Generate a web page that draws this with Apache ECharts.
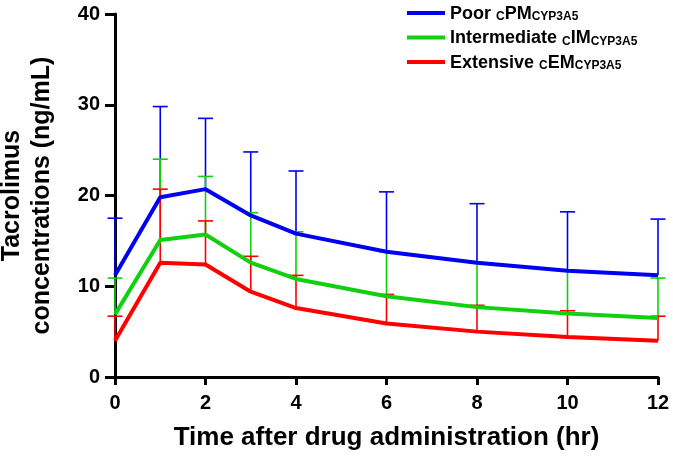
<!DOCTYPE html>
<html>
<head>
<meta charset="utf-8">
<script src="https://cdn.jsdelivr.net/npm/echarts@6/dist/echarts.min.js"></script>
<style>
  html, body { margin: 0; padding: 0; background: #fff; }
  #chart { width: 673px; height: 456px; }
</style>
</head>
<body>
<div id="chart"></div>
<script>
// hours after dose
const hours = [0, 1, 2, 3, 4, 6, 8, 10, 12];
// mean and mean+SD (ng/mL)
const poorMean = [11.2, 19.8, 20.7, 17.8, 15.8, 13.8, 12.6, 11.7, 11.2];
const poorUpper = [17.5, 29.8, 28.5, 24.8, 22.7, 20.4, 19.1, 18.2, 17.4];
const interMean = [6.9, 15.1, 15.7, 12.6, 10.8, 8.9, 7.7, 7.0, 6.5];
const interUpper = [10.9, 24.0, 22.1, 18.1, 16.0, 13.8, 12.6, 11.7, 10.9];
const extMean = [4.0, 12.6, 12.4, 9.4, 7.6, 5.9, 5.0, 4.4, 4.0];
const extUpper = [6.7, 20.7, 17.2, 13.3, 11.2, 9.1, 7.9, 7.3, 6.7];
const xTicks = [0, 12, 2];   // min, max, step
const yTicks = [0, 40, 10];

const FONT = "'Liberation Sans', Arial, sans-serif";
const colors = { poor: "#0000f0", inter: "#10d010", ext: "#ff0000" };

function pairs(ys) {
  return hours.map((h, i) => [h, ys[i]]);
}
function errData(mean, upper) {
  return hours.map((h, i) => [h, mean[i], upper[i]]);
}
function errRender(color) {
  return function (params, api) {
    const x = api.value(0);
    const p0 = api.coord([x, api.value(1)]);
    const p1 = api.coord([x, api.value(2)]);
    const hw = 7.5;
    const style = { stroke: color, lineWidth: 1.6 };
    return {
      type: "group",
      children: [
        { type: "line", shape: { x1: p0[0], y1: p0[1], x2: p1[0], y2: p1[1] }, style: style },
        { type: "line", shape: { x1: p1[0] - hw, y1: p1[1], x2: p1[0] + hw, y2: p1[1] }, style: style }
      ]
    };
  };
}

const names = ["Poor", "Intermediate", "Extensive"];
const legendText = {
  Poor: "{m|Poor }{s|C}{m|PM}{s|CYP3A5}",
  Intermediate: "{m|Intermediate }{s|C}{m|IM}{s|CYP3A5}",
  Extensive: "{m|Extensive }{s|C}{m|EM}{s|CYP3A5}"
};

const chart = echarts.init(document.getElementById("chart"));
chart.setOption({
  animation: false,
  textStyle: { fontFamily: FONT },
  grid: { left: 115, right: 15, top: 14, bottom: 79, outerBoundsMode: "none", containLabel: false },
  legend: {
    data: names,
    orient: "vertical",
    left: 402,
    top: 0,
    icon: "rect",
    itemWidth: 38,
    itemHeight: 4,
    itemGap: 6.5,
    formatter: function (n) { return legendText[n]; },
    textStyle: {
      padding: [0, 0, 0, 0],
      rich: {
        m: { fontSize: 18, fontWeight: "bold", color: "#000", fontFamily: FONT, lineHeight: 20, verticalAlign: "bottom" },
        s: { fontSize: 12, fontWeight: "bold", color: "#000", fontFamily: FONT, lineHeight: 15, verticalAlign: "bottom" }
      }
    }
  },
  xAxis: {
    type: "value",
    min: xTicks[0],
    max: xTicks[1],
    interval: xTicks[2],
    name: "Time after drug administration (hr)",
    nameLocation: "middle",
    nameGap: 48,
    nameTextStyle: { fontSize: 26, fontWeight: "bold", color: "#000", fontFamily: FONT },
    axisLine: { lineStyle: { color: "#000", width: 3 } },
    axisTick: { length: 8, lineStyle: { color: "#000", width: 3 } },
    axisLabel: { fontSize: 20, fontWeight: "bold", color: "#000", margin: 16, fontFamily: FONT },
    splitLine: { show: false }
  },
  yAxis: {
    type: "value",
    min: yTicks[0],
    max: yTicks[1],
    interval: yTicks[2],
    name: "Tacrolimus\nconcentrations (ng/mL)",
    nameLocation: "middle",
    nameGap: 58,
    nameTextStyle: { fontSize: 25, fontWeight: "bold", color: "#000", lineHeight: 30, fontFamily: FONT },
    axisLine: { lineStyle: { color: "#000", width: 3 } },
    axisTick: { length: 10, lineStyle: { color: "#000", width: 3 } },
    axisLabel: { fontSize: 20, fontWeight: "bold", color: "#000", margin: 15, fontFamily: FONT },
    splitLine: { show: false }
  },
  series: [
    { type: "custom", name: "PoorErr", data: errData(poorMean, poorUpper), renderItem: errRender(colors.poor), encode: { x: 0, y: [1, 2] }, z: 2 },
    { type: "custom", name: "InterErr", data: errData(interMean, interUpper), renderItem: errRender(colors.inter), encode: { x: 0, y: [1, 2] }, z: 2 },
    { type: "custom", name: "ExtErr", data: errData(extMean, extUpper), renderItem: errRender(colors.ext), encode: { x: 0, y: [1, 2] }, z: 2 },
    { type: "line", name: "Poor", data: pairs(poorMean), symbol: "none", color: colors.poor, lineStyle: { width: 4, color: colors.poor }, z: 3 },
    { type: "line", name: "Intermediate", data: pairs(interMean), symbol: "none", color: colors.inter, lineStyle: { width: 4, color: colors.inter }, z: 3 },
    { type: "line", name: "Extensive", data: pairs(extMean), symbol: "none", color: colors.ext, lineStyle: { width: 4, color: colors.ext }, z: 3 }
  ]
});
</script>
</body>
</html>
